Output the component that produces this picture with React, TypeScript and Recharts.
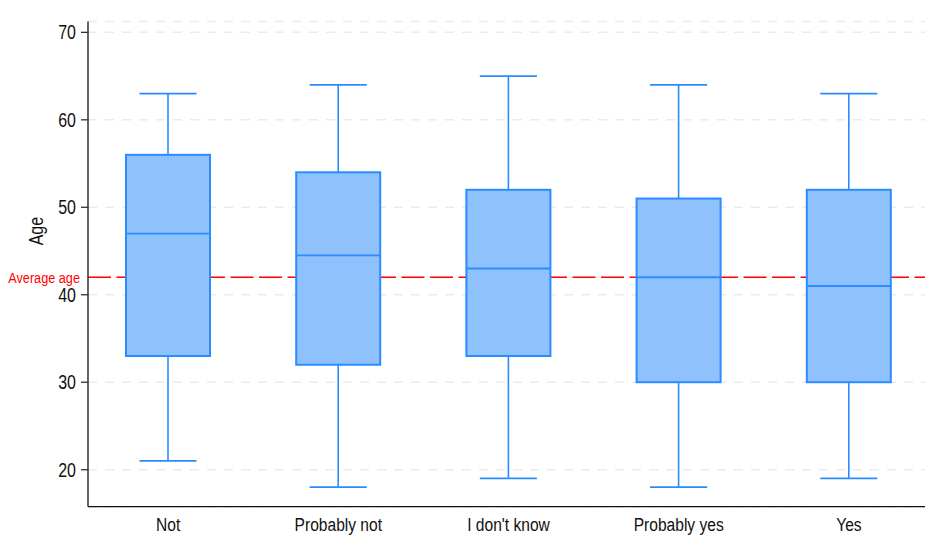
import React from 'react';
import {
  ComposedChart,
  Bar,
  XAxis,
  YAxis,
  CartesianGrid,
  ReferenceLine,
} from 'recharts';

// Age distribution per answer group (five-number summaries)
const categories = ['Not', 'Probably not', "I don't know", 'Probably yes', 'Yes'];
const minValues = [21, 18, 19, 18, 19];
const q1Values = [33, 32, 33, 30, 30];
const medianValues = [47, 44.5, 43, 42, 41];
const q3Values = [56, 54, 52, 51, 52];
const maxValues = [63, 64, 65, 64, 63];
const averageAge = 42;
const yTicks = [20, 30, 40, 50, 60, 70];

const data = categories.map((name, i) => ({
  name,
  min: minValues[i],
  q1: q1Values[i],
  median: medianValues[i],
  q3: q3Values[i],
  max: maxValues[i],
}));

const FONT = "'Liberation Sans', Arial, sans-serif";
// Narrow look: Arial-metric glyphs squeezed horizontally
const NARROW = 0.82;
const BLUE = '#2A8CFF';
const BLUE_FILL = '#8FC2FD';
const TEXT = '#111';
const RED = '#FF0000';

// The bar spans [min, max]; the inner marks are placed on that same scale.
const BoxShape = (props: any) => {
  const { x, y, width, height, payload } = props;
  const span = payload.max - payload.min;
  const toY = (v: number) => y + ((payload.max - v) / span) * height;
  const cx = x + width / 2;
  const capHalf = width * 0.34;
  const yMax = toY(payload.max);
  const yMin = toY(payload.min);
  const yQ1 = toY(payload.q1);
  const yQ3 = toY(payload.q3);
  const yMed = toY(payload.median);
  return (
    <g>
      <line x1={cx} x2={cx} y1={yMax} y2={yQ3} stroke={BLUE} strokeWidth={1.6} />
      <line x1={cx} x2={cx} y1={yQ1} y2={yMin} stroke={BLUE} strokeWidth={1.6} />
      <line x1={cx - capHalf} x2={cx + capHalf} y1={yMax} y2={yMax} stroke={BLUE} strokeWidth={1.8} />
      <line x1={cx - capHalf} x2={cx + capHalf} y1={yMin} y2={yMin} stroke={BLUE} strokeWidth={1.8} />
      <rect x={x} y={yQ3} width={width} height={yQ1 - yQ3} fill={BLUE_FILL} stroke={BLUE} strokeWidth={2} />
      <line x1={x} x2={x + width} y1={yMed} y2={yMed} stroke={BLUE} strokeWidth={1.8} />
    </g>
  );
};

const XTick = (props: any) => {
  const { x, y, payload } = props;
  return (
    <text
      transform={`translate(${x}, ${y}) scale(${NARROW}, 1)`}
      textAnchor="middle"
      dy="0.71em"
      fontFamily={FONT}
      fontSize={19}
      fill={TEXT}
    >
      {payload.value}
    </text>
  );
};

const YTick = (props: any) => {
  const { x, y, payload } = props;
  return (
    <text
      transform={`translate(${x}, ${y}) scale(${NARROW}, 1)`}
      textAnchor="end"
      dy="0.355em"
      fontFamily={FONT}
      fontSize={19.5}
      fill={TEXT}
    >
      {payload.value}
    </text>
  );
};

const AgeLabel = (props: any) => {
  const { viewBox } = props;
  const tx = viewBox.x + 28.5;
  const ty = viewBox.y + viewBox.height / 2 - 33;
  return (
    <text
      transform={`translate(${tx}, ${ty}) rotate(-90) scale(${NARROW}, 1)`}
      textAnchor="middle"
      dy="0.355em"
      fontFamily={FONT}
      fontSize={19.5}
      fill={TEXT}
    >
      Age
    </text>
  );
};

const AverageLabel = (props: any) => {
  const { viewBox } = props;
  const tx = viewBox.x - 8;
  const ty = viewBox.y;
  return (
    <text
      transform={`translate(${tx}, ${ty}) scale(${NARROW}, 1)`}
      textAnchor="end"
      dy="0.355em"
      fontFamily={FONT}
      fontSize={15.5}
      fill={RED}
    >
      Average age
    </text>
  );
};

// Average-age line placed in the grid layer so the boxes sit on top of it
const averageLineCoords = (args: any) => {
  const scale = args?.yAxis?.scale;
  if (typeof scale === 'function') return [Math.round(scale(averageAge)) + 0.5];
  if (scale && typeof scale.map === 'function') return [scale.map(averageAge)];
  return [];
};

export default function App() {
  return (
    <div style={{ position: 'absolute', left: 8, top: 8, width: 917, height: 527, background: '#fff' }}>
      <ComposedChart
        width={917}
        height={527}
        data={data}
        margin={{ top: 13.5, right: 0, bottom: 0, left: 0 }}
        barCategoryGap={0}
      >
        <CartesianGrid
          vertical={false}
          stroke="#EBEBEB"
          strokeWidth={1.5}
          strokeDasharray="9 8"
        />
        <CartesianGrid
          vertical={false}
          horizontalCoordinatesGenerator={averageLineCoords}
          stroke={RED}
          strokeWidth={1.6}
          strokeDasharray="23 5.5"
        />
        <XAxis
          dataKey="name"
          type="category"
          padding={{ left: -5, right: -9 }}
          axisLine={{ stroke: TEXT, strokeWidth: 1.3 }}
          tickLine={false}
          tickSize={7}
          tickMargin={4}
          height={28.3}
          interval={0}
          tick={<XTick />}
        />
        <YAxis
          type="number"
          domain={[15.77, 71.24]}
          allowDataOverflow
          ticks={yTicks}
          width={80}
          axisLine={{ stroke: TEXT, strokeWidth: 1.3 }}
          tickLine={{ stroke: '#333', strokeWidth: 1.3 }}
          tickSize={7}
          tickMargin={5}
          tick={<YTick />}
          label={<AgeLabel />}
        />
        <ReferenceLine
          y={averageAge}
          stroke="none"
          label={<AverageLabel />}
        />
        <Bar
          dataKey={(d: any) => [d.min, d.max]}
          barSize={84}
          shape={<BoxShape />}
          isAnimationActive={false}
        />
      </ComposedChart>
    </div>
  );
}
